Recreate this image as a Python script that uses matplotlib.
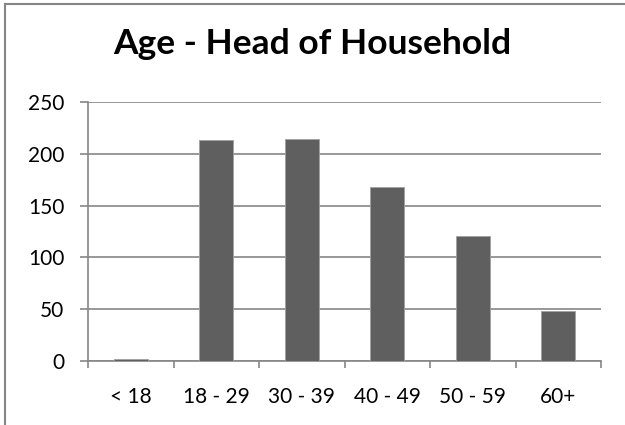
import matplotlib.pyplot as plt
from matplotlib.lines import Line2D
import numpy as np

categories = ["< 18", "18 - 29", "30 - 39", "40 - 49", "50 - 59", "60+"]
counts = [2, 213, 214, 168, 121, 48]
y_ticks = [0, 50, 100, 150, 200, 250]

plt.rcParams['font.family'] = ['Lato', 'DejaVu Sans']

axis_grey = "#868686"
bar_grey = "#5f5f5f"

fig = plt.figure(figsize=(6.25, 4.25), dpi=100)
ax = fig.add_axes([0.1408, 0.1506, 0.8208, 0.6094])

x = np.arange(len(categories))
ax.bar(x, counts, width=0.4, color=bar_grey, edgecolor="#a0a0a0", linewidth=0.6, zorder=3)

ax.set_xlim(-0.5, len(categories) - 0.5)
ax.set_ylim(0, 250)
ax.set_yticks(y_ticks)
ax.set_yticklabels([str(v) for v in y_ticks], fontsize=15)
ax.set_xticks(x)
ax.set_xticklabels(categories, fontsize=15)
ax.tick_params(axis="x", length=0, pad=19)
ax.tick_params(axis="y", length=6, color=axis_grey, width=1.2, pad=11)

# tick marks between categories
ax.set_xticks(np.arange(-0.5, len(categories)), minor=True)
ax.tick_params(axis="x", which="minor", length=5, color=axis_grey, width=1.2)

ax.yaxis.grid(True, color=axis_grey, linewidth=1.2, zorder=0)
for side in ["top", "right"]:
    ax.spines[side].set_visible(False)
for side in ["left", "bottom"]:
    ax.spines[side].set_color(axis_grey)
    ax.spines[side].set_linewidth(1.2)

fig.text(0.5, 0.896, "Age - Head of Household", ha="center", va="center",
         fontsize=25.5, fontweight="bold")

# chart frame (only top and left edges visible)
fig.add_artist(Line2D([0.0072, 1.0], [0.9906, 0.9906], transform=fig.transFigure,
                      color=axis_grey, linewidth=1.5))
fig.add_artist(Line2D([0.0072, 0.0072], [0.0, 0.9906], transform=fig.transFigure,
                      color=axis_grey, linewidth=1.5))

fig.savefig("out.png", dpi=100)
